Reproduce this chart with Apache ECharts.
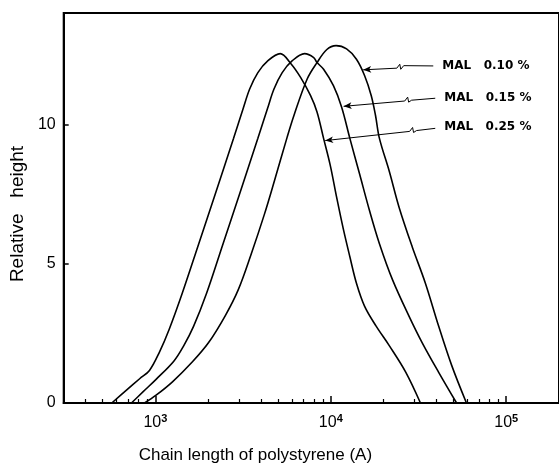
<!DOCTYPE html>
<html>
<head>
<meta charset="utf-8">
<script src="https://cdn.jsdelivr.net/npm/echarts@6/dist/echarts.min.js"></script>
<style>html,body{margin:0;padding:0;background:#fff}#chart{width:559px;height:469px}</style>
</head>
<body>
<div id="chart"></div>
<script>
// ---- data (x = chain length in Å, y = relative height) ----
const seriesNames = ['MAL 0.10 %', 'MAL 0.15 %', 'MAL 0.25 %'];
const curve010 = [[867,0],[1009,0.28],[1251,0.76],[1621,1.47],[2011,2.17],[2495,3.12],[2965,4.06],[3522,5.36],[4185,6.78],[4763,7.96],[5612,9.50],[6170,10.33],[7333,11.63],[8344,12.22],[9495,12.69],[10715,12.83],[12301,12.71],[14003,12.34],[15593,11.75],[16995,11.04],[17977,10.33],[18933,9.50],[21544,8.32],[24521,7.02],[29136,5.60],[34611,4.30],[41135,2.77],[48880,1.35],[59350,0]];
const curve015 = [[730,0],[849,0.40],[1009,0.85],[1273,1.50],[1449,2.05],[1650,2.75],[1960,3.95],[2431,5.72],[3016,7.49],[3839,9.50],[4352,10.56],[4743,11.27],[5284,11.86],[6012,12.28],[7084,12.54],[7993,12.40],[8344,12.22],[9095,11.98],[10351,11.39],[11530,10.62],[12842,9.50],[14619,8.20],[16634,6.90],[18933,5.72],[22497,4.42],[27907,3.12],[33150,2.17],[41135,1.11],[52140,0]];
const curve025 = [[564,0],[684,0.46],[813,0.87],[925,1.17],[1053,1.82],[1199,2.65],[1424,3.95],[1767,5.72],[2192,7.49],[2791,9.50],[3162,10.56],[3447,11.27],[3839,11.86],[4369,12.28],[5148,12.54],[5909,12.19],[6725,11.69],[7656,11.04],[8344,10.45],[9095,9.50],[9915,8.55],[10807,7.37],[11782,6.25],[12842,5.25],[14003,4.30],[15593,3.47],[18132,2.76],[21544,2.06],[26730,1.11],[32442,0]];
// leader lines (arrow tip first, label end last), in data units
const leader010 = [[15300,11.96],[23789,12.02],[24731,12.16],[25053,11.98],[26044,12.11],[38391,12.10]];
const leader015 = [[11832,10.65],[26384,10.84],[27428,10.98],[27785,10.80],[28884,10.87],[39399,10.94]];
const leader025 = [[9289,9.42],[28146,9.75],[29261,9.89],[29642,9.71],[30817,9.78],[39399,9.86]];
const leaderTexts = ['MAL   0.10 %', 'MAL   0.15 %', 'MAL   0.25 %'];
const xMajorTicks = [1000, 10000, 100000];
const xMinorTicks = [400,500,600,700,800,900,2000,3000,4000,5000,6000,7000,8000,9000,20000,30000,40000,50000,60000,70000,80000,90000];
const yTicks = [0, 5, 10];
const yMin = 0, yMax = 14;
const xMin = 300, xMax = 200000;
const xTitle = 'Chain length of polystyrene (A)';
const yTitle = 'Relative   height';

const FONT = 'Liberation Sans';

function leaderLines(pts, text) {
  const segs = [];
  for (let i = 0; i < pts.length - 1; i++) {
    const a = { coord: pts[i], symbol: i === 0 ? 'arrow' : 'none', symbolSize: [5, 8] };
    const b = { coord: pts[i + 1], symbol: 'none' };
    if (i === pts.length - 2) {
      a.label = { show: true, position: 'end', distance: 9, formatter: text,
        color: '#000', fontFamily: 'DejaVu Sans', fontWeight: 'bold', fontSize: 12 };
    }
    segs.push([a, b]);
  }
  return segs;
}

function makeSeries(name, data, leader, label) {
  return {
    name: name, type: 'line', data: data, smooth: 0.35,
    showSymbol: false, symbol: 'none',
    lineStyle: { color: '#000', width: 1.6 },
    markLine: {
      silent: true, animation: false, symbol: ['none', 'none'],
      lineStyle: { color: '#000', width: 1, type: 'solid' },
      label: { show: false },
      emphasis: { disabled: true },
      data: leaderLines(leader, label)
    }
  };
}

const chart = echarts.init(document.getElementById('chart'), null, { renderer: 'canvas' });
chart.setOption({
  animation: false,
  backgroundColor: '#fff',
  grid: { left: 63, right: -7, top: 13, bottom: 61, show: true, borderColor: '#000', borderWidth: 2 },
  xAxis: [
    {
      type: 'log', logBase: 10, min: xMin, max: xMax, position: 'bottom',
      axisLine: { show: true, lineStyle: { color: '#000', width: 2 } },
      axisTick: { show: true, inside: true, length: 7, customValues: xMajorTicks, lineStyle: { color: '#000', width: 1.5 } },
      axisLabel: {
        show: true, customValues: xMajorTicks, margin: 10, color: '#000',
        formatter: function (v) { return '{b|10}{s|' + Math.round(Math.log10(v)) + '}'; },
        rich: {
          b: { fontSize: 16, fontFamily: FONT, color: '#000' },
          s: { fontSize: 11, fontFamily: FONT, fontWeight: 'bold', color: '#000', padding: [0, 0, 9, 0] }
        }
      },
      splitLine: { show: false },
      name: xTitle, nameLocation: 'middle', nameGap: 44,
      nameTextStyle: { fontSize: 17, fontFamily: FONT, color: '#000', padding: [0, 112, 0, 0] }
    },
    {
      type: 'log', logBase: 10, min: xMin, max: xMax, position: 'bottom',
      axisLine: { show: false },
      axisTick: { show: true, inside: true, length: 4, customValues: xMinorTicks, lineStyle: { color: '#000', width: 1.2 } },
      axisLabel: { show: false },
      splitLine: { show: false }
    }
  ],
  yAxis: {
    type: 'value', min: yMin, max: yMax,
    axisLine: { show: true, lineStyle: { color: '#000', width: 2 } },
    axisTick: { show: true, inside: true, length: 5, customValues: yTicks, lineStyle: { color: '#000', width: 1.5 } },
    axisLabel: { color: '#000', fontSize: 16, fontFamily: FONT, margin: 8, customValues: yTicks },
    splitLine: { show: false },
    name: yTitle, nameLocation: 'middle', nameGap: 35,
    nameTextStyle: { fontSize: 19, fontFamily: FONT, color: '#000', padding: [0, 12, 0, 0] }
  },
  series: [
    makeSeries(seriesNames[0], curve010, leader010, leaderTexts[0]),
    makeSeries(seriesNames[1], curve015, leader015, leaderTexts[1]),
    makeSeries(seriesNames[2], curve025, leader025, leaderTexts[2])
  ]
});
</script>
</body>
</html>
